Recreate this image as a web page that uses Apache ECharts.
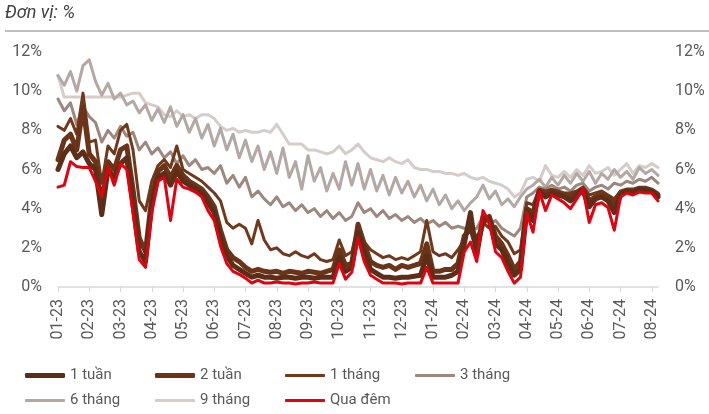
<!DOCTYPE html>
<html>
<head>
<meta charset="utf-8">
<script src="https://cdn.jsdelivr.net/npm/echarts@6/dist/echarts.min.js"></script>
<style>
  html, body { margin: 0; padding: 0; background: #ffffff; }
  #chart { width: 709px; height: 414px; }
</style>
</head>
<body>
<div id="chart"></div>
<script>
// Interbank rates by tenor, Jan 2023 - Aug 2024, five readings per month
const monthLabels = ['01-23','02-23','03-23','04-23','05-23','06-23','07-23','08-23','09-23','10-23',
                     '11-23','12-23','01-24','02-24','03-24','04-24','05-24','06-24','07-24','08-24'];

const rate1W = [
  6.0, 6.8, 7.2, 6.6, 6.9, 6.3, 6.0, 3.7, 6.0, 5.6,
  6.3, 6.6, 4.2, 1.8, 1.3, 4.2, 5.6, 5.8, 5.2, 5.9,
  5.4, 5.2, 5.0, 4.8, 4.3, 3.8, 2.5, 1.6, 1.1, 0.9,
  0.7, 0.5, 0.6, 0.5, 0.5, 0.45, 0.5, 0.5, 0.45, 0.5,
  0.5, 0.45, 0.5, 0.5, 0.5, 1.5, 0.8, 1.0, 2.8, 1.8,
  0.9, 0.7, 0.5, 0.5, 0.45, 0.5, 0.5, 0.55, 0.6, 1.6,
  0.5, 0.5, 0.5, 0.6, 0.8, 2.2, 3.8, 1.6, 3.6, 3.5,
  2.2, 1.9, 1.2, 0.6, 0.9, 3.9, 3.4, 4.9, 4.6, 4.8,
  4.7, 4.6, 4.4, 4.7, 4.9, 4.1, 4.5, 4.6, 4.4, 3.8,
  4.7, 4.9, 4.8, 5.0, 4.9, 4.9, 4.6
];
const rate2W = [
  6.5, 7.5, 7.8, 7.0, 9.2, 6.8, 6.4, 4.2, 6.4, 6.0,
  7.0, 7.2, 5.0, 2.5, 1.8, 4.6, 5.9, 6.2, 5.6, 6.2,
  5.7, 5.4, 5.2, 5.0, 4.6, 4.1, 2.9, 1.9, 1.5, 1.3,
  1.0, 0.8, 0.9, 0.8, 0.75, 0.8, 0.7, 0.8, 0.75, 0.7,
  0.8, 0.75, 0.7, 0.8, 0.9, 1.9, 1.1, 1.2, 3.2, 2.2,
  1.3, 1.1, 1.0, 1.1, 0.9, 1.1, 1.0, 1.1, 1.2, 2.2,
  0.8, 0.8, 0.9, 0.9, 1.2, 2.6, 3.0, 2.0, 3.3, 3.6,
  2.6, 2.2, 1.6, 0.9, 1.3, 4.0, 3.8, 4.9, 4.7, 4.9,
  4.8, 4.7, 4.6, 4.8, 5.0, 4.4, 4.6, 4.7, 4.6, 4.2,
  4.8, 4.9, 4.9, 5.0, 5.0, 4.9, 4.7
];
const rate1M = [
  8.2, 8.0, 8.6, 7.8, 9.9, 7.4, 7.5, 5.3, 7.2, 6.8,
  8.0, 8.3, 7.0, 4.4, 3.9, 5.4, 6.2, 6.5, 6.1, 7.2,
  6.0, 5.8, 5.6, 5.4, 5.1, 4.8, 4.4, 3.3, 3.0, 3.2,
  3.0, 2.2, 3.4, 2.4, 1.9, 2.0, 1.7, 1.6, 1.8, 1.6,
  1.5, 1.7, 1.4, 1.3, 1.4, 2.4, 1.6, 1.8, 3.1, 2.3,
  1.9, 1.7, 1.5, 1.6, 1.4, 1.5, 1.4, 1.6, 1.8, 3.4,
  1.8, 1.6, 1.7, 1.5, 1.9, 2.4, 3.2, 2.5, 3.3, 3.0,
  3.1, 2.6, 2.3, 1.7, 1.9, 4.3, 4.2, 5.0, 4.9, 5.0,
  4.9, 4.8, 4.8, 4.9, 5.1, 4.7, 4.8, 4.9, 4.7, 4.5,
  4.9, 5.0, 5.0, 5.1, 5.1, 5.0, 4.8
];
const rate3M = [
  9.6, 9.0, 9.4, 8.3, 9.2, 8.7, 8.4, 7.4, 8.0, 7.6,
  8.2, 7.7, 7.9, 7.0, 7.4, 6.8, 7.1, 6.6, 6.9, 6.3,
  6.7, 6.2, 6.5, 6.0, 6.1, 5.8, 6.2, 5.3, 5.7, 5.1,
  5.6, 4.6, 4.9, 4.5, 4.2, 4.6, 4.1, 4.3, 3.9, 4.2,
  3.8, 4.0, 3.6, 3.9, 3.5, 3.8, 3.4, 3.6, 4.3, 3.8,
  4.0, 3.6, 3.9, 3.5, 3.7, 3.4, 3.6, 3.3, 3.5, 3.2,
  3.4, 3.1, 3.3, 3.0, 3.1, 3.0, 2.9, 3.0, 3.6, 3.2,
  3.4, 3.0, 2.8, 2.6, 3.0, 4.6, 4.8, 5.1, 5.0, 5.2,
  5.0, 5.1, 4.9, 5.2, 5.3, 4.9, 5.1, 5.2, 5.0, 5.3,
  5.2, 5.4, 5.3, 5.5, 5.4, 5.6, 5.3
];
const rate6M = [
  10.8, 10.3, 11.0, 10.0, 11.3, 11.6, 10.5, 9.8, 10.4, 9.6,
  9.9, 9.3, 9.5, 8.9, 9.3, 8.5, 9.1, 8.4, 9.2, 8.2,
  8.8, 7.9, 8.6, 7.6, 8.3, 7.2, 8.1, 7.0, 7.8, 6.6,
  7.5, 6.4, 7.2, 6.0, 6.9, 5.8, 7.1, 5.6, 6.4, 5.0,
  6.7, 5.4, 6.1, 4.9, 5.8, 5.0, 6.4, 5.2, 6.3, 5.0,
  6.0, 4.9, 5.7, 4.7, 5.6, 4.8, 5.4, 4.6, 5.2, 4.4,
  5.0, 4.2, 4.7, 4.0, 4.4, 3.9, 4.3, 4.6, 5.2, 4.5,
  4.9, 4.2, 4.5, 4.1, 4.6, 5.0, 5.2, 5.5, 5.1, 5.6,
  5.2, 5.7, 5.3, 5.8, 5.4, 5.9, 5.3, 5.8, 5.5, 6.0,
  5.6, 5.9, 5.5, 6.1, 5.8, 6.0, 5.7
];
const rate9M = [
  10.8, 9.7, 9.7, 9.7, 9.7, 9.7, 9.7, 9.7, 9.7, 9.7,
  9.7, 9.8, 9.9, 9.9, 9.4, 9.3, 9.2, 8.8, 8.7, 9.0,
  8.7, 8.8, 8.6, 8.8, 8.8, 8.6, 8.2, 8.0, 8.1, 7.9,
  8.0, 7.9, 7.9, 8.0, 7.9, 8.3, 7.8, 7.3, 7.3, 7.3,
  7.0, 7.0, 6.9, 6.8, 6.9, 7.2, 6.8, 7.0, 7.3, 6.9,
  6.6, 6.5, 6.4, 6.6, 6.4, 6.3, 6.5, 6.1, 6.0, 6.0,
  5.9, 5.9, 5.8, 5.8, 5.7, 5.8, 5.6, 5.5, 5.6, 5.4,
  5.3, 5.2, 5.0, 4.6, 4.8, 5.5, 5.6, 5.4, 6.2, 5.7,
  5.6, 5.9, 5.6, 6.0, 5.7, 6.2, 5.8, 5.9, 6.1, 5.7,
  6.0, 6.3, 5.8, 6.2, 6.1, 6.3, 6.1
];
const rateON = [
  5.1, 5.2, 6.4, 6.15, 6.1, 6.1, 5.4, 4.6, 6.1, 5.2,
  6.3, 6.0, 3.8, 1.4, 1.0, 3.8, 5.4, 5.6, 3.4, 5.5,
  5.1, 5.0, 4.85, 4.6, 3.9, 3.4, 2.1, 1.2, 0.8, 0.65,
  0.45, 0.2, 0.35, 0.2, 0.2, 0.25, 0.2, 0.2, 0.15, 0.2,
  0.2, 0.25, 0.2, 0.2, 0.2, 1.2, 0.4, 0.75, 2.5, 1.3,
  0.6, 0.4, 0.2, 0.2, 0.2, 0.15, 0.2, 0.2, 0.2, 1.0,
  0.2, 0.2, 0.2, 0.2, 0.2, 1.8, 2.3, 1.3, 3.9, 3.3,
  1.8, 1.5, 0.8, 0.2, 0.5, 3.8, 2.8, 4.9, 3.9, 4.7,
  4.5, 4.3, 4.0, 4.5, 5.0, 3.3, 4.2, 4.3, 4.05, 2.9,
  4.6, 4.8, 4.7, 4.85, 4.8, 4.8, 4.4
];

// Category slots: the first slot of each month carries the month label
const categories = monthLabels
  .flatMap(m => [m, m + '#2', m + '#3', m + '#4', m + '#5'])
  .slice(0, rateON.length);
const isMonthStart = (idx) => idx % 5 === 0;

const seriesDefs = [
  { name: '1 tuần',  data: rate1W, color: '#5C2E17', width: 5, z: 7 },
  { name: '2 tuần',  data: rate2W, color: '#6B3419', width: 5, z: 6 },
  { name: '1 tháng', data: rate1M, color: '#70391C', width: 3, z: 5 },
  { name: '3 tháng', data: rate3M, color: '#9E877C', width: 3, z: 4 },
  { name: '6 tháng', data: rate6M, color: '#B3A8A4', width: 3, z: 3 },
  { name: '9 tháng', data: rate9M, color: '#D5CDCA', width: 3, z: 2 },
  { name: 'Qua đêm', data: rateON, color: '#E3000F', width: 3, z: 8 }
];

const FONT = 'Roboto, "Noto Sans", sans-serif';
const TEXT = '#595959';

const legends = seriesDefs.map((s, i) => ({
  data: [s.name],
  left: 25 + 130 * (i % 4),
  top: i < 4 ? 368 : 393,
  itemWidth: 40,
  itemHeight: s.width,
  icon: 'roundRect',
  padding: 0,
  textStyle: { color: TEXT, fontSize: 15, fontFamily: FONT }
}));

const yAxisBase = {
  type: 'value', min: 0, max: 12, interval: 2,
  splitLine: { show: false },
  axisLine: { show: false },
  axisTick: { show: false }
};

const chart = echarts.init(document.getElementById('chart'), null, { renderer: 'canvas' });
chart.setOption({
  animation: false,
  backgroundColor: '#ffffff',
  graphic: [
    { type: 'text', left: 5, top: 4,
      style: { text: 'Đơn vị: %', font: 'italic 18px ' + FONT, fill: '#404040' } },
    { type: 'line', shape: { x1: 5, y1: 31, x2: 709, y2: 31 },
      style: { stroke: '#bfbfbf', lineWidth: 2 } }
  ],
  grid: { left: 58, top: 52, width: 600, height: 235 },
  legend: legends,
  xAxis: {
    type: 'category',
    data: categories,
    boundaryGap: false,
    axisLine: { lineStyle: { color: '#d9d9d9', width: 1.5 } },
    axisTick: { interval: isMonthStart, length: 5, lineStyle: { color: '#d9d9d9' } },
    axisLabel: {
      interval: isMonthStart, rotate: 90, margin: 12,
      color: TEXT, fontSize: 16, fontFamily: FONT
    }
  },
  yAxis: [
    Object.assign({}, yAxisBase, { position: 'left',
      axisLabel: { formatter: '{value}%', margin: 16, color: TEXT, fontSize: 16, fontFamily: FONT } }),
    Object.assign({}, yAxisBase, { position: 'right',
      axisLabel: { formatter: '{value}%', margin: 17, color: TEXT, fontSize: 16, fontFamily: FONT } })
  ],
  series: seriesDefs.map(s => ({
    name: s.name,
    type: 'line',
    data: s.data,
    z: s.z,
    symbol: 'none',
    showSymbol: false,
    color: s.color,
    itemStyle: { color: s.color },
    lineStyle: { color: s.color, width: s.width, cap: 'round', join: 'round' }
  }))
});
</script>
</body>
</html>
